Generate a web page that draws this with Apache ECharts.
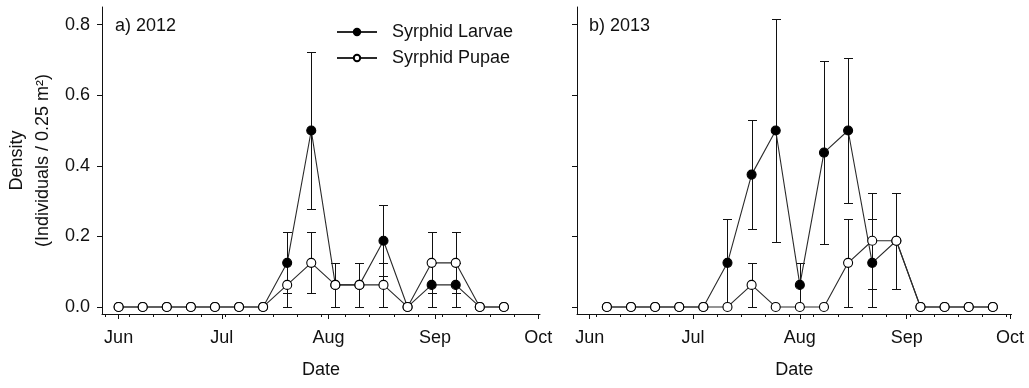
<!DOCTYPE html>
<html>
<head>
<meta charset="utf-8">
<title>Syrphid density 2012–2013</title>
<script src="https://cdn.jsdelivr.net/npm/echarts@6/dist/echarts.min.js"></script>
<style>
  html, body { margin: 0; padding: 0; background: #fff; }
  #chart { width: 1029px; height: 388px; }
</style>
</head>
<body>
<div id="chart"></div>
<script>
// Weekly sampling dates
const dates2012 = ['2012-06-01','2012-06-08','2012-06-15','2012-06-22','2012-06-29','2012-07-06','2012-07-13',
  '2012-07-20','2012-07-27','2012-08-03','2012-08-10','2012-08-17','2012-08-24','2012-08-31','2012-09-07',
  '2012-09-14','2012-09-21'];
const dates2013 = ['2013-06-06','2013-06-13','2013-06-20','2013-06-27','2013-07-04','2013-07-11','2013-07-18',
  '2013-07-25','2013-08-01','2013-08-08','2013-08-15','2013-08-22','2013-08-29','2013-09-05','2013-09-12',
  '2013-09-19','2013-09-26'];

// Mean density (individuals / 0.25 m²) and standard error
const larvae2012   = [0,0,0,0,0,0,0,0.125,0.5,0.0625,0.0625,0.1875,0,0.0625,0.0625,0,0];
const larvaeSE2012 = [0,0,0,0,0,0,0,0.086,0.223,0.0625,0.0625,0.101,0,0.0625,0.0625,0,0];
const pupae2012    = [0,0,0,0,0,0,0,0.0625,0.125,0.0625,0.0625,0.0625,0,0.125,0.125,0,0];
const pupaeSE2012  = [0,0,0,0,0,0,0,0.0625,0.086,0.0625,0.0625,0.0625,0,0.086,0.086,0,0];

const larvae2013   = [0,0,0,0,0,0.125,0.375,0.5,0.0625,0.4375,0.5,0.125,0.1875,0,0,0,0];
const larvaeSE2013 = [0,0,0,0,0,0.125,0.155,0.316,0.0625,0.259,0.206,0.125,0.136,0,0,0,0];
const pupae2013    = [0,0,0,0,0,0,0.0625,0,0,0,0.125,0.1875,0.1875,0,0,0,0];
const pupaeSE2013  = [0,0,0,0,0,0,0.0625,0,0,0,0.125,0.136,0.136,0,0,0,0];

const yTicks = [0, 0.2, 0.4, 0.6, 0.8];
const monthNames = ['Jan','Feb','Mar','Apr','May','Jun','Jul','Aug','Sep','Oct','Nov','Dec'];
const monthStarts = { 2012: ['2012-06-01','2012-07-01','2012-08-01','2012-09-01','2012-10-01'],
                      2013: ['2013-06-01','2013-07-01','2013-08-01','2013-09-01','2013-10-01'] };

const DAY = 86400000;
const ts = s => Date.parse(s + 'T00:00:00Z');

// Monday ticks between two timestamps
function mondays(from, to) {
  const out = [];
  let t = Math.ceil(from / DAY) * DAY;
  while (new Date(t).getUTCDay() !== 1) t += DAY;
  for (; t <= to; t += 7 * DAY) out.push(t);
  return out;
}

const FONT = 'Liberation Sans, Arial, sans-serif';
const INK = '#111';
const LINE = '#2a2a2a';

const ranges = {
  2012: [ts('2012-05-27') + 4 * 3600000, ts('2012-10-01') + 12 * 3600000],
  2013: [ts('2013-05-28') + 8 * 3600000, ts('2013-10-01') + 10 * 3600000]
};

function pairs(dates, vals) { return dates.map((d, i) => [ts(d), vals[i]]); }
function bars(dates, vals, se) {
  const out = [];
  dates.forEach((d, i) => { if (se[i] > 0) out.push([ts(d), Math.max(0, vals[i] - se[i]), vals[i] + se[i]]); });
  return out;
}

function renderErrorBar(params, api) {
  const x = api.value(0);
  const lo = api.coord([x, api.value(1)]);
  const hi = api.coord([x, api.value(2)]);
  const cx = Math.round(lo[0]) + 0.5;
  const yl = Math.round(lo[1]) + 0.5;
  const yh = Math.round(hi[1]) + 0.5;
  const w = 4.5;
  const style = { stroke: INK, lineWidth: 1 };
  return {
    type: 'group',
    children: [
      { type: 'line', shape: { x1: cx, y1: yl, x2: cx, y2: yh }, style },
      { type: 'line', shape: { x1: cx - w, y1: yh, x2: cx + w, y2: yh }, style },
      { type: 'line', shape: { x1: cx - w, y1: yl, x2: cx + w, y2: yl }, style }
    ]
  };
}

function mainXAxis(year, gridIndex) {
  return {
    type: 'value', gridIndex, position: 'bottom',
    min: ranges[year][0], max: ranges[year][1],
    name: 'Date', nameLocation: 'middle', nameGap: 47,
    nameTextStyle: { fontFamily: FONT, fontSize: 18, color: INK },
    splitLine: { show: false },
    axisLine: { onZero: false, lineStyle: { color: INK, width: 1 } },
    axisTick: { customValues: monthStarts[year].map(ts), length: 5, lineStyle: { color: INK } },
    axisLabel: {
      customValues: monthStarts[year].map(ts), margin: 15,
      fontFamily: FONT, fontSize: 18, color: INK,
      formatter: v => monthNames[new Date(v).getUTCMonth()]
    }
  };
}

function minorXAxis(year, gridIndex) {
  return {
    type: 'value', gridIndex, position: 'bottom',
    min: ranges[year][0], max: ranges[year][1],
    splitLine: { show: false },
    axisLine: { show: false, onZero: false },
    axisTick: { customValues: mondays(ranges[year][0], ranges[year][1]), length: 3, lineStyle: { color: INK } },
    axisLabel: { show: false }
  };
}

function yAxis(gridIndex, withLabels) {
  return {
    type: 'value', gridIndex, min: -0.02, max: 0.85,
    name: withLabels ? 'Density\n(Individuals / 0.25 m²)' : '',
    nameLocation: 'middle', nameGap: 46,
    nameTextStyle: { fontFamily: FONT, fontSize: 18, color: INK, lineHeight: 26 },
    splitLine: { show: false },
    axisLine: { show: true, onZero: false, lineStyle: { color: INK, width: 1 } },
    axisTick: { show: true, customValues: yTicks, length: 5, lineStyle: { color: INK } },
    axisLabel: {
      show: withLabels, customValues: yTicks, margin: 12,
      fontFamily: FONT, fontSize: 18, color: INK,
      formatter: v => v.toFixed(1)
    }
  };
}

function lineSeries(name, data, xi, yi, filled, z) {
  return {
    name, type: 'line', data, xAxisIndex: xi, yAxisIndex: yi, z,
    symbol: 'circle', symbolSize: 9, showAllSymbol: true,
    lineStyle: { color: LINE, width: 1.1 },
    itemStyle: { color: filled ? '#000' : '#fff', borderColor: '#000', borderWidth: 1.1 },
    emphasis: { disabled: true }
  };
}

function barSeries(name, data, xi, yi) {
  return {
    name, type: 'custom', data, xAxisIndex: xi, yAxisIndex: yi, z: 1,
    renderItem: renderErrorBar, encode: { x: 0, y: [1, 2] }, silent: true
  };
}

const chart = echarts.init(document.getElementById('chart'), null, { renderer: 'canvas' });
chart.setOption({
  animation: false,
  backgroundColor: '#fff',
  title: [
    { text: 'a) 2012', left: 115, top: 17, padding: 0,
      textStyle: { fontFamily: FONT, fontSize: 18, fontWeight: 'normal', color: INK } },
    { text: 'b) 2013', left: 589, top: 17, padding: 0,
      textStyle: { fontFamily: FONT, fontSize: 18, fontWeight: 'normal', color: INK } }
  ],
  legend: {
    orient: 'vertical', left: 336, top: 22, padding: 0,
    itemWidth: 40, itemHeight: 8, itemGap: 6,
    data: ['Syrphid Larvae', 'Syrphid Pupae'],
    textStyle: { fontFamily: FONT, fontSize: 18, color: INK, lineHeight: 20, padding: [0, 0, 0, 10] },
    selectedMode: false
  },
  grid: [
    { left: 102, right: 489, top: 7, bottom: 74 },
    { left: 577, right: 17.5, top: 7, bottom: 74 }
  ],
  xAxis: [mainXAxis(2012, 0), minorXAxis(2012, 0), mainXAxis(2013, 1), minorXAxis(2013, 1)],
  yAxis: [yAxis(0, true), yAxis(1, false)],
  series: [
    barSeries('Larvae SE 2012', bars(dates2012, larvae2012, larvaeSE2012), 0, 0),
    barSeries('Pupae SE 2012', bars(dates2012, pupae2012, pupaeSE2012), 0, 0),
    lineSeries('Syrphid Larvae', pairs(dates2012, larvae2012), 0, 0, true, 2),
    lineSeries('Syrphid Pupae', pairs(dates2012, pupae2012), 0, 0, false, 3),
    barSeries('Larvae SE 2013', bars(dates2013, larvae2013, larvaeSE2013), 2, 1),
    barSeries('Pupae SE 2013', bars(dates2013, pupae2013, pupaeSE2013), 2, 1),
    lineSeries('Syrphid Larvae', pairs(dates2013, larvae2013), 2, 1, true, 2),
    lineSeries('Syrphid Pupae', pairs(dates2013, pupae2013), 2, 1, false, 3)
  ]
});
</script>
</body>
</html>
